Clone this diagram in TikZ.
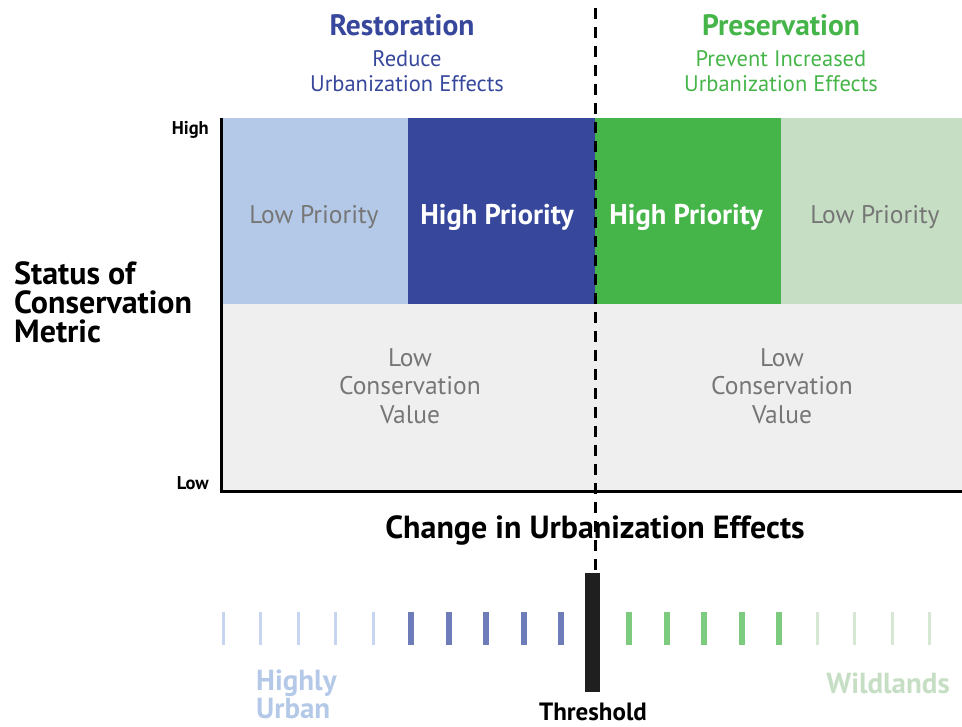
\documentclass[tikz,border=0pt]{standalone}
\usepackage{fontspec}
\setmainfont{PT Sans}
\usetikzlibrary{positioning}
\definecolor{restblue}{HTML}{36479C}
\definecolor{paleblue}{HTML}{B4C9E7}
\definecolor{presgreen}{HTML}{46B549}
\definecolor{palegreen}{HTML}{C6DFC4}
\definecolor{valuegray}{HTML}{EFEFEF}
\definecolor{prioritygray}{HTML}{767676}
\definecolor{tickpaleblue}{HTML}{C7D6EE}
\definecolor{tickblue}{HTML}{6E7CBA}
\definecolor{tickgreen}{HTML}{7CCB7E}
\definecolor{tickpalegreen}{HTML}{D6E8D4}
\tikzset{
  every node/.style={inner sep=0pt},
  headline/.style={font=\bfseries\fontsize{29.5}{32}\selectfont},
  subline/.style={font=\fontsize{22.5}{25}\selectfont, align=center},
  lowprio/.style={text=prioritygray, font=\fontsize{25.5}{27}\selectfont},
  highprio/.style={text=white, font=\bfseries\fontsize{28.5}{30}\selectfont},
  lowvalue/.style={text=prioritygray, font=\fontsize{25.5}{28.5}\selectfont, align=center},
  axislabel/.style={font=\bfseries\fontsize{32}{29}\selectfont},
  endlabel/.style={font=\bfseries\fontsize{18.5}{20}\selectfont, anchor=east},
  scalelabel/.style={font=\bfseries\fontsize{29}{28}\selectfont}
}

\begin{document}
\begin{tikzpicture}[x=1pt, y=-1pt]
    \useasboundingbox (0,0) rectangle (962,727);
    % cells of the chart
    \fill[paleblue] (221,118) rectangle (408,304);
    \fill[restblue] (408,118) rectangle (595,304);
    \fill[presgreen] (595,118) rectangle (781,304);
    \fill[palegreen] (781,118) rectangle (962,304);
    \fill[valuegray] (221,304) rectangle (962,491);

    % axes
    \coordinate (origin) at (221,491);
    \coordinate (ytop) at (221,118);
    \coordinate (xend) at (962,491);
    \draw[line width=3pt] (ytop) -- (origin) -- (xend);

    % threshold line
    \coordinate (dtop) at (595,8);
    \coordinate (dbot) at (595,572);
    \draw[line width=3pt, dash pattern=on 11pt off 8pt] (dtop) -- (dbot);

    % headings
    \node[headline, text=restblue] (rest) at (402,25) {Restoration};
    \node[subline, text=restblue] (resttxt) at (407,71.5) {Reduce\\Urbanization Effects};
    \node[headline, text=presgreen] (pres) at (781,25) {Preservation};
    \node[subline, text=presgreen] (prestxt) at (781,71.5) {Prevent Increased\\Urbanization Effects};

    % cell texts
    \node[lowprio] (lowleft) at (314,217) {Low Priority};
    \node[highprio] (highleft) at (497,217) {High Priority};
    \node[highprio] (highright) at (686,217) {High Priority};
    \node[lowprio] (lowright) at (875,217) {Low Priority};
    \node[lowvalue] (valleft) at (410,386) {Low\\Conservation\\Value};
    \node[lowvalue] (valright) at (782,386) {Low\\Conservation\\Value};

    % axis labels
    \node[endlabel] (high) at (209,130) {High};
    \node[endlabel] (low) at (209,483) {Low};
    \node[axislabel, align=left, anchor=west] (status) at (14,302) {Status of\\Conservation\\Metric};
    \node[axislabel] (change) at (595,530) {Change in Urbanization Effects};

    % scale below
    \foreach \i in {0,...,4} {
        \fill[tickpaleblue] ({223+37.6*\i-1.5},612) rectangle ++(3,33);
        \fill[tickblue] ({411+37.6*\i-3},612) rectangle ++(6,33);
        \fill[tickgreen] ({629+37.6*\i-3},612) rectangle ++(6,33);
    }
    \foreach \i in {0,...,3}
        \fill[tickpalegreen] ({817+37.6*\i-1.5},612) rectangle ++(3,33);
    \fill[black!88] (585,573) rectangle (600,692);

    \node[scalelabel, text=paleblue, align=left, anchor=west] (urban) at (256,694) {Highly\\Urban};
    \node[scalelabel, text=palegreen, anchor=east] (wild) at (950,683) {Wildlands};
    \node[scalelabel, font=\bfseries\fontsize{25}{28}\selectfont] (thresh) at (593,712) {Threshold};
\end{tikzpicture}
\end{document}
